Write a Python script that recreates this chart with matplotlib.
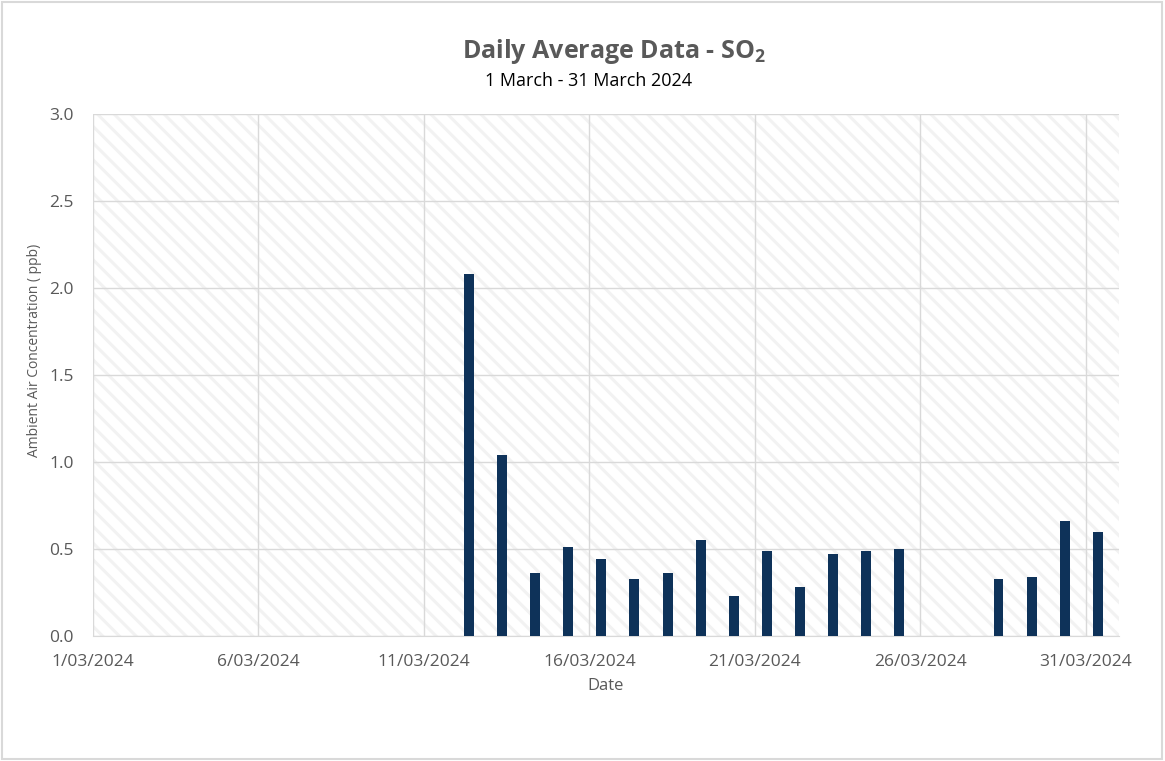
import datetime as dt

import matplotlib
matplotlib.use("Agg")
import matplotlib.pyplot as plt
import matplotlib.dates as mdates
from matplotlib.patches import Rectangle
from matplotlib.ticker import FormatStrFormatter

plt.rcParams['font.family'] = ['Open Sans', 'DejaVu Sans']
plt.rcParams['hatch.linewidth'] = 2.2

# Daily SO2 averages (ppb); days without data are left out
days = [12, 13, 14, 15, 16, 17, 18, 19, 20, 21, 22, 23, 24, 25, 28, 29, 30, 31]
so2 = [2.08, 1.04, 0.36, 0.51, 0.44, 0.33, 0.36, 0.55, 0.23, 0.49,
       0.28, 0.47, 0.49, 0.50, 0.33, 0.34, 0.66, 0.60]
tick_days = [1, 6, 11, 16, 21, 26, 31]

dates = [dt.datetime(2024, 3, d) + dt.timedelta(days=0.36) for d in days]
ticks = [dt.datetime(2024, 3, d) for d in tick_days]

fig = plt.figure(figsize=(11.65, 7.61), dpi=100)
ax = fig.add_axes([0.0798, 0.1643, 0.8807, 0.6859])

# outer chart border
fig.patches.append(Rectangle((0.002, 0.003), 0.995, 0.994, transform=fig.transFigure,
                             fill=False, edgecolor='#d9d9d9', linewidth=1.5))

# light diagonal hatching behind the plot
ax.add_patch(Rectangle((0, 0), 1, 1, transform=ax.transAxes, facecolor='white',
                       edgecolor='#f2f2f2', hatch='\\\\', linewidth=0, zorder=0))

ax.bar(dates, so2, width=0.3, color='#0e3259', zorder=3)

ax.set_xlim(dt.datetime(2024, 3, 1), dt.datetime(2024, 4, 1))
ax.set_ylim(0, 3.0)
ax.set_xticks(ticks)
ax.xaxis.set_major_formatter(mdates.DateFormatter('%-d/%m/%Y'))
ax.set_yticks([0, 0.5, 1.0, 1.5, 2.0, 2.5, 3.0])
ax.yaxis.set_major_formatter(FormatStrFormatter('%.1f'))

ax.grid(True, color='#d9d9d9', linewidth=1.0, zorder=1)
ax.set_axisbelow(True)
for side in ['top', 'right', 'left']:
    ax.spines[side].set_visible(False)
ax.spines['bottom'].set_color('#d9d9d9')
ax.tick_params(length=0, labelsize=12.5, colors='#595959', pad=13)
ax.tick_params(axis='y', pad=14)

ax.set_xlabel('Date', fontsize=12, color='#595959', labelpad=6)
ax.set_ylabel('Ambient Air Concentration ( ppb)', fontsize=10, color='#595959')
ax.yaxis.set_label_coords(-0.05, 0.548)

fig.text(0.527, 0.932, r'Daily Average Data - SO$_\mathregular{2}$', ha='center', va='center',
         fontsize=18, fontweight='bold', color='#595959')
fig.text(0.505, 0.893, '1 March - 31 March 2024', ha='center', va='center',
         fontsize=13, color='black')

fig.savefig('out.png', dpi=100)
